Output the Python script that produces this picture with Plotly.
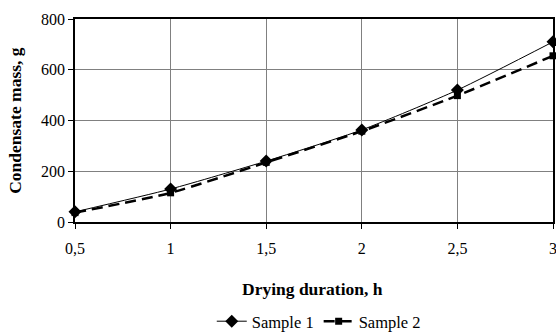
import plotly.graph_objects as go

x_vals = [0.5, 1, 1.5, 2, 2.5, 3]
sample1 = [40, 130, 240, 363, 520, 710]
sample2 = [37, 115, 235, 358, 498, 655]
x_tick_vals = [0.5, 1, 1.5, 2, 2.5, 3]
x_tick_text = ["0,5", "1", "1,5", "2", "2,5", "3"]
y_tick_vals = [0, 200, 400, 600, 800]

font = "Liberation Serif"

fig = go.Figure()
fig.add_trace(go.Scatter(
    x=x_vals, y=sample1, name="Sample 1", mode="lines+markers", cliponaxis=False,
    line=dict(color="black", width=1, shape="spline", smoothing=0.6),
    marker=dict(symbol="diamond", size=10, color="black"),
))
fig.add_trace(go.Scatter(
    x=x_vals, y=sample2, name="Sample 2", mode="lines+markers", cliponaxis=False,
    line=dict(color="black", width=2.5, dash="11px,6px", shape="spline", smoothing=0.6),
    marker=dict(symbol="square", size=7, color="black"),
))

fig.update_layout(
    width=556, height=335,
    margin=dict(l=75, r=3, t=19, b=113, autoexpand=False),
    paper_bgcolor="white", plot_bgcolor="white",
    font=dict(family=font, size=16, color="black"),
    showlegend=True,
    legend=dict(orientation="h", x=0.51, xanchor="center", y=-0.49, yanchor="middle",
                font=dict(family=font, size=16.5), tracegroupgap=0),
    annotations=[
        dict(text="<b>Condensate mass, g</b>", xref="paper", yref="paper",
             x=-0.127, y=0.5, xanchor="center", yanchor="middle", textangle=-90,
             showarrow=False, font=dict(family=font, size=17.5)),
        dict(text="<b>Drying duration, h</b>", xref="paper", yref="paper",
             x=0.497, y=-0.33, xanchor="center", yanchor="middle",
             showarrow=False, font=dict(family=font, size=17.5)),
    ],
)
fig.update_xaxes(range=[0.5, 3], tickvals=x_tick_vals, ticktext=x_tick_text,
                 tickfont=dict(family=font, size=16),
                 showgrid=True, gridcolor="#808080", gridwidth=1, automargin=False,
                 showline=True, linecolor="black", linewidth=1.5, mirror=True,
                 ticks="outside", ticklen=5, tickcolor="black", zeroline=False,
                 ticklabeloverflow="allow", ticklabelstandoff=6)
fig.update_yaxes(range=[0, 800], tickvals=y_tick_vals, automargin=False,
                 tickfont=dict(family=font, size=16),
                 showgrid=True, gridcolor="#808080", gridwidth=1,
                 showline=True, linecolor="black", linewidth=1.5, mirror=True,
                 ticks="outside", ticklen=5, tickcolor="black", zeroline=False)

fig.write_html("out.html", config={"displayModeBar": False},
               post_script="document.body.style.margin='0';document.body.style.overflow='hidden';")
